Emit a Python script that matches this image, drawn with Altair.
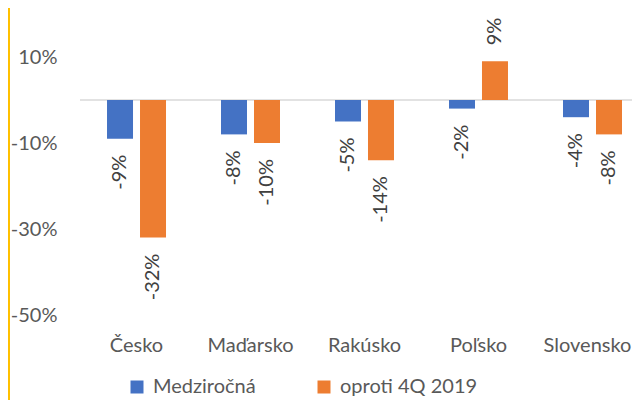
import altair as alt
import pandas as pd

countries = ["Česko", "Maďarsko", "Rakúsko", "Poľsko", "Slovensko"]
series = ["Medziročná", "oproti 4Q 2019"]
medzirocna = [-9, -8, -5, -2, -4]
oproti = [-32, -10, -14, 9, -8]
y_ticks = [10, -10, -30, -50]
colors = ["#4472C4", "#ED7D31"]

rows = []
for c, a, b in zip(countries, medzirocna, oproti):
    rows.append({"country": c, "series": series[0], "value": a})
    rows.append({"country": c, "series": series[1], "value": b})
df = pd.DataFrame(rows)

FONT = "Lato"
FS = 20

x_enc = alt.X(
    "country:N", sort=countries,
    scale=alt.Scale(range=[0, 569], paddingInner=0.4825, paddingOuter=0.237),
    axis=alt.Axis(title=None, labelAngle=0, domain=False, ticks=False, grid=False,
                  labelPadding=20, labelFontSize=FS, labelColor="#595959", labelFont=FONT,
                  labelOffset={"expr": "datum.value == 'Slovensko' ? -5 : 0"}),
)
xo_enc = alt.XOffset("series:N", sort=series, scale=alt.Scale(paddingInner=0.212, paddingOuter=0))
y_enc = alt.Y(
    "value:Q",
    scale=alt.Scale(domain=[-50, 20], nice=False, zero=False),
    axis=alt.Axis(title=None, values=y_ticks, labelExpr="datum.value + '%'", domain=False,
                  ticks=False, grid=False, labelPadding=23, labelFontSize=FS,
                  labelColor="#595959", labelFont=FONT),
)

base = alt.Chart(df).transform_calculate(label="datum.value + '%'")

bars = base.mark_bar().encode(
    x=x_enc, xOffset=xo_enc, y=y_enc,
    color=alt.Color("series:N", sort=series,
                    scale=alt.Scale(domain=series, range=colors),
                    legend=alt.Legend(title=None, orient="none", direction="horizontal",
                                      legendX=47, legendY=363, symbolType="square",
                                      symbolSize=169, symbolStrokeWidth=0, labelFontSize=FS,
                                      labelFont=FONT, labelColor="#595959", labelOffset=6,
                                      columnPadding=58, padding=0)),
)

neg_labels = base.transform_filter("datum.value < 0").mark_text(
    angle=270, align="right", baseline="middle", yOffset=16,
    fontSize=FS, font=FONT, color="#404040",
).encode(x=x_enc, xOffset=xo_enc, y=y_enc, text="label:N")

pos_labels = base.transform_filter("datum.value >= 0").mark_text(
    angle=270, align="left", baseline="middle", yOffset=-16,
    fontSize=FS, font=FONT, color="#404040",
).encode(x=x_enc, xOffset=xo_enc, y=y_enc, text="label:N")

zero_line = alt.Chart(pd.DataFrame({"z": [0]})).mark_rule(color="#d9d9d9", strokeWidth=1.5).encode(
    y=alt.datum(0), x=alt.value(0), x2=alt.value(570)
)

strip = alt.Chart(pd.DataFrame({"z": [0]})).mark_rect(color="#FFC000").encode(
    x=alt.value(-72), x2=alt.value(-70), y=alt.value(-6), y2=alt.value(400)
)

chart = alt.layer(strip, zero_line, bars, neg_labels, pos_labels).properties(
    width=552, height=301,
    autosize=alt.AutoSizeParams(type="none"),
    padding={"left": 72, "top": 6, "right": 0, "bottom": 85},
).configure_view(stroke=None)

chart.save("out.html", embed_options={"renderer": "svg", "actions": False})
